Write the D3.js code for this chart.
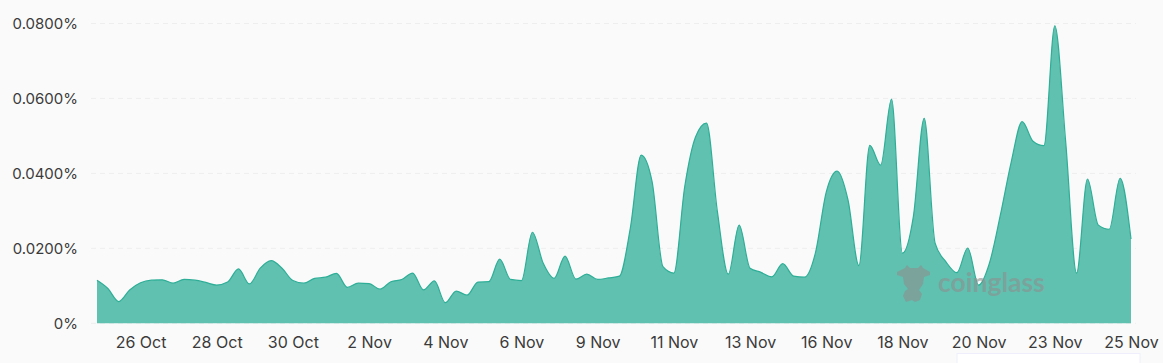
<!DOCTYPE html>
<html>
<head>
<meta charset="utf-8">
<script src="https://cdn.jsdelivr.net/npm/d3@7"></script>
<style>
  html, body { margin: 0; padding: 0; background: #fafafa; overflow: hidden; }
</style>
</head>
<body>
<div id="chart"></div>
<script>
// 8 hourly funding rate samples
const times = [
  "24 Oct 16:00",
  "25 Oct 00:00", "25 Oct 08:00", "25 Oct 16:00",
  "26 Oct 00:00", "26 Oct 08:00", "26 Oct 16:00",
  "27 Oct 00:00", "27 Oct 08:00", "27 Oct 16:00",
  "28 Oct 00:00", "28 Oct 08:00", "28 Oct 16:00",
  "29 Oct 00:00", "29 Oct 08:00", "29 Oct 16:00",
  "30 Oct 00:00", "30 Oct 08:00", "30 Oct 16:00",
  "31 Oct 00:00", "31 Oct 08:00", "31 Oct 16:00",
  "1 Nov 00:00", "1 Nov 08:00", "1 Nov 16:00",
  "2 Nov 00:00", "2 Nov 08:00", "2 Nov 16:00",
  "3 Nov 00:00", "3 Nov 08:00", "3 Nov 16:00",
  "4 Nov 00:00", "4 Nov 08:00", "4 Nov 16:00",
  "5 Nov 00:00", "5 Nov 08:00", "5 Nov 16:00",
  "6 Nov 00:00", "6 Nov 08:00", "6 Nov 16:00",
  "7 Nov 00:00", "7 Nov 08:00", "7 Nov 16:00",
  "8 Nov 00:00", "8 Nov 08:00", "8 Nov 16:00",
  "9 Nov 00:00", "9 Nov 08:00", "9 Nov 16:00",
  "10 Nov 00:00", "10 Nov 08:00", "10 Nov 16:00",
  "11 Nov 00:00", "11 Nov 08:00", "11 Nov 16:00",
  "12 Nov 00:00", "12 Nov 08:00", "12 Nov 16:00",
  "13 Nov 00:00", "13 Nov 08:00", "13 Nov 16:00",
  "14 Nov 00:00", "14 Nov 08:00", "14 Nov 16:00",
  "15 Nov 00:00", "15 Nov 08:00", "15 Nov 16:00",
  "16 Nov 00:00", "16 Nov 08:00", "16 Nov 16:00",
  "17 Nov 00:00", "17 Nov 08:00", "17 Nov 16:00",
  "18 Nov 00:00", "18 Nov 08:00", "18 Nov 16:00",
  "19 Nov 00:00", "19 Nov 08:00", "19 Nov 16:00",
  "20 Nov 00:00", "20 Nov 08:00", "20 Nov 16:00",
  "21 Nov 00:00", "21 Nov 08:00", "21 Nov 16:00",
  "22 Nov 00:00", "22 Nov 08:00", "22 Nov 16:00",
  "23 Nov 00:00", "23 Nov 08:00", "23 Nov 16:00",
  "24 Nov 00:00", "24 Nov 08:00", "24 Nov 16:00",
  "25 Nov 00:00", "25 Nov 08:00"
];

const rates = [
  0.0115, 0.0093, 0.0058, 0.0089, 0.0108, 0.0115, 0.0116, 0.0107,
  0.0117, 0.0115, 0.0109, 0.0102, 0.0110, 0.0145, 0.0105, 0.0147,
  0.0167, 0.0147, 0.0114, 0.0107, 0.0120, 0.0123, 0.0133, 0.0096,
  0.0107, 0.0106, 0.0091, 0.0111, 0.0117, 0.0134, 0.0089, 0.0113,
  0.0055, 0.0086, 0.0075, 0.0110, 0.0111, 0.0171, 0.0117, 0.0114,
  0.0243, 0.0160, 0.0120, 0.0179, 0.0118, 0.0131, 0.0117, 0.0121,
  0.0126, 0.0254, 0.0449, 0.0378, 0.0151, 0.0134, 0.0365, 0.0498,
  0.0534, 0.0298, 0.0131, 0.0262, 0.0147, 0.0136, 0.0124, 0.0159,
  0.0126, 0.0123, 0.0187, 0.0350, 0.0406, 0.0329, 0.0154, 0.0475,
  0.0422, 0.0598, 0.0187, 0.0284, 0.0547, 0.0214, 0.0164, 0.0135,
  0.0201, 0.0102, 0.0161, 0.0289, 0.0431, 0.0538, 0.0486, 0.0474,
  0.0794, 0.0484, 0.0134, 0.0385, 0.0262, 0.0251, 0.0387, 0.0225
];

const xTicks = [
  "26 Oct 00:00", "28 Oct 08:00", "30 Oct 16:00", "2 Nov 00:00",
  "4 Nov 08:00", "6 Nov 16:00", "9 Nov 00:00", "11 Nov 08:00",
  "13 Nov 16:00", "16 Nov 00:00", "18 Nov 08:00", "20 Nov 16:00",
  "23 Nov 00:00", "25 Nov 08:00"
];
const yTicks = [0, 0.02, 0.04, 0.06, 0.08];

const W = 1163, H = 363;
const margin = { top: 23.5, right: 32, bottom: 39.7, left: 97 };
const width = W - margin.left - margin.right;
const height = H - margin.top - margin.bottom;
const fontFamily = "Inter, Roboto, Arial, sans-serif";

const svg = d3.select("#chart")
  .append("svg")
  .attr("width", W)
  .attr("height", H)
  .style("display", "block")
  .style("font-family", fontFamily);

const g = svg.append("g")
  .attr("transform", `translate(${margin.left},${margin.top})`);

const x = d3.scalePoint().domain(times).range([0, width]);
const y = d3.scaleLinear().domain([0, 0.08]).range([height, 0]);

// grid
g.append("g")
  .selectAll("line")
  .data(yTicks)
  .enter()
  .append("line")
  .attr("x1", -6)
  .attr("x2", width + 5)
  .attr("y1", d => y(d))
  .attr("y2", d => y(d))
  .attr("stroke", "#eeeeee")
  .attr("stroke-dasharray", "5,4");

const series = times.map((t, i) => ({ t, v: rates[i] }));

const area = d3.area()
  .x(d => x(d.t))
  .y0(height)
  .y1(d => y(d.v))
  .curve(d3.curveMonotoneX);

const line = d3.line()
  .x(d => x(d.t))
  .y(d => y(d.v))
  .curve(d3.curveMonotoneX);

g.append("path")
  .datum(series)
  .attr("d", area)
  .attr("fill", "#60c1b0");

g.append("path")
  .datum(series)
  .attr("d", line)
  .attr("fill", "none")
  .attr("stroke", "#2eae97")
  .attr("stroke-width", 1.2);

// axes
const yAxis = g.append("g")
  .call(d3.axisLeft(y)
    .tickValues(yTicks)
    .tickSize(0)
    .tickPadding(19)
    .tickFormat(d => d === 0 ? "0%" : d.toFixed(4) + "%"));

const xAxis = g.append("g")
  .attr("transform", `translate(0,${height})`)
  .call(d3.axisBottom(x)
    .tickValues(xTicks)
    .tickSize(0)
    .tickPadding(13)
    .tickFormat(d => d.split(" ").slice(0, 2).join(" ")));

yAxis.select(".domain").remove();
xAxis.select(".domain").remove();

yAxis.selectAll("text")
  .style("font-family", fontFamily)
  .style("font-size", "15px")
  .attr("fill", "#3a3a3a");

xAxis.selectAll("text")
  .style("font-family", fontFamily)
  .style("font-size", "16px")
  .attr("fill", "#3a3a3a");

// coinglass watermark
const mark = svg.append("g")
  .attr("transform", "translate(897,265)")
  .attr("fill", "#8f8f8f")
  .attr("opacity", 0.6);

mark.append("path")
  .attr("d", "M0 7 L8 3 L10 0 L13 3 L21 3 L24 0 L26 3 L33 7 L33 10 L27 12 L26 19 L22 25 L25 29 L23 35 L18 37 L15 35 L9 37 L6 31 L8 26 L11 24 L7 19 L6 12 L0 10 Z");

mark.append("text")
  .attr("x", 41)
  .attr("y", 27)
  .style("font-family", "Lato, sans-serif")
  .style("font-size", "26.5px")
  .style("font-weight", "700")
  .text("coinglass");

// faint edge of a box below the chart
svg.append("rect")
  .attr("x", 957)
  .attr("y", 353.5)
  .attr("width", 183)
  .attr("height", 20)
  .attr("fill", "#ffffff")
  .attr("stroke", "#eeeefc");
</script>
</body>
</html>
